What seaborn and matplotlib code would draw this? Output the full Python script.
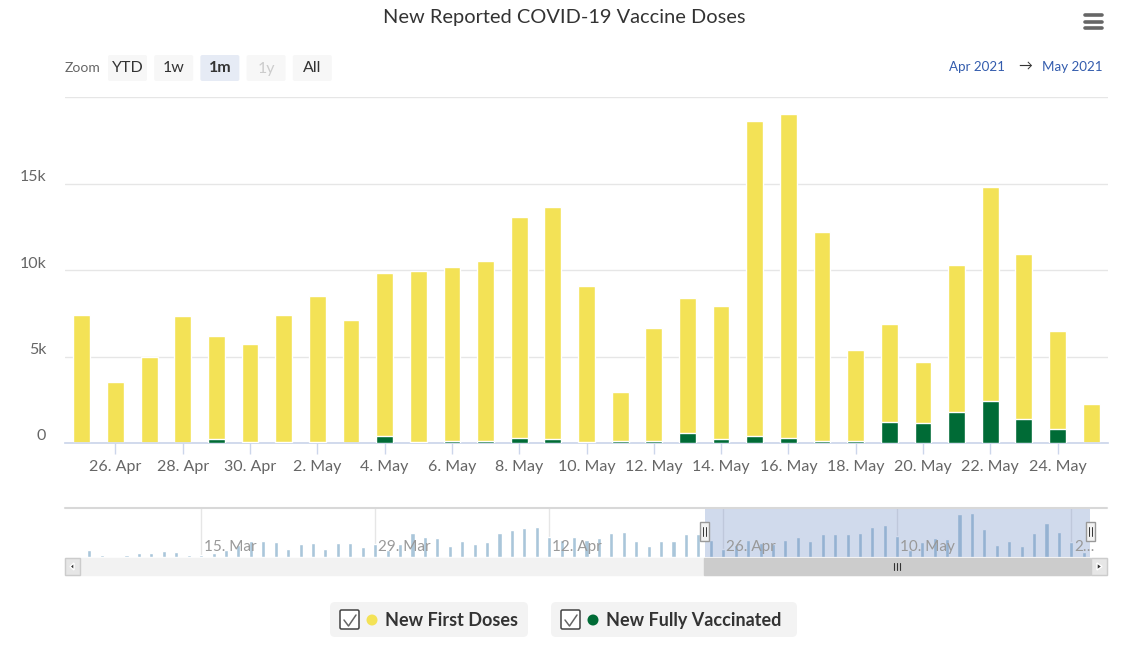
import numpy as np
import pandas as pd
import seaborn as sns
import matplotlib.pyplot as plt
import matplotlib.transforms as mtransforms
from matplotlib.patches import FancyBboxPatch, Rectangle, Circle, Polygon

W, H = 1135, 648

# ---- data ----
dates = pd.date_range("2021-04-25", "2021-05-25")
first_doses = [7400, 3550, 5000, 7330, 5950, 5640, 7320, 8410, 7110, 9410, 9860,
               10010, 10380, 12770, 13450, 8990, 2830, 6530, 7830, 7700, 18160,
               18740, 12050, 5230, 5640, 3550, 8490, 12410, 9590, 5660, 2250]
fully_vaccinated = [0, 0, 0, 0, 210, 80, 80, 80, 20, 430, 80, 140, 140, 290, 210,
                    80, 140, 140, 580, 210, 430, 290, 140, 140, 1240, 1160, 1820,
                    2400, 1360, 790, 0]
# navigator series before the selected month (daily totals, 5 Mar - 24 Apr)
nav_dates_early = pd.date_range("2021-03-05", "2021-04-24")
nav_totals_early = [0, 3200, 1000, 0, 1000, 1700, 1700, 2700, 2200, 1000, 1000, 1700,
                    3200, 5000, 7000, 7000, 6500, 3600, 5600, 6000, 3600, 6000, 6000,
                    4300, 5600, 3200, 5600, 10400, 8600, 8100, 4900, 7000, 5600, 6500,
                    10400, 11500, 12500, 13100, 8600, 7500, 8600, 7500, 8200, 10400,
                    10800, 7000, 4900, 7000, 7000, 9800, 9800]
series_names = ["New First Doses", "New Fully Vaccinated"]
series_colors = ["#f3e256", "#006b36"]
y_ticks = [0, 5000, 10000, 15000, 20000]
y_labels = ["0", "5k", "10k", "15k", ""]
zoom_buttons = ["YTD", "1w", "1m", "1y", "All"]
nav_label_dates = ["2021-03-15", "2021-03-29", "2021-04-12", "2021-04-26",
                   "2021-05-10", "2021-05-24"]
nav_labels = ["15. Mar", "29. Mar", "12. Apr", "26. Apr", "10. May", "2…"]

df = pd.DataFrame({"date": [f"{d.day}. {d.strftime('%b')}" for d in dates],
                   "first": first_doses, "full": fully_vaccinated})
df["total"] = df["first"] + df["full"]

nav = pd.DataFrame({"date": list(nav_dates_early) + list(dates),
                    "total": nav_totals_early + list(df["total"])})
nav["i"] = np.arange(len(nav))

sns.set_theme(style="white")
plt.rcParams["font.family"] = ["Lato", "DejaVu Sans"]

fig = plt.figure(figsize=(W / 100, H / 100), dpi=100, facecolor="white")


def px_axes(x0, y0, x1, y1, **kw):
    return fig.add_axes([x0 / W, 1 - y1 / H, (x1 - x0) / W, (y1 - y0) / H], **kw)


# ---- main chart ----
ax = px_axes(65, 97, 1108, 443)
sns.barplot(data=df, x="date", y="total", color=series_colors[0], width=0.5,
            saturation=1, errorbar=None, ax=ax, zorder=2)
sns.barplot(data=df, x="date", y="full", color=series_colors[1], width=0.5,
            saturation=1, errorbar=None, ax=ax, zorder=3)
ax.set_xlim(-0.5, len(df) - 0.5)
ax.set_ylim(0, 20000)
ax.set_xlabel("")
ax.set_ylabel("")
ax.set_yticks(y_ticks)
ax.set_yticklabels(y_labels)
ax.yaxis.grid(True, color="#e6e6e6", lw=1)
ax.set_axisbelow(True)
tick_idx = list(range(1, len(df), 2))
ax.set_xticks(tick_idx)
ax.set_xticklabels(df["date"].iloc[tick_idx])
ax.tick_params(axis="x", length=8, width=1, color="#ccd6eb", pad=4,
               labelsize=11.5, labelcolor="#666666", bottom=True)
ax.tick_params(axis="y", length=0, pad=13.5, labelsize=11.5, labelcolor="#666666")
shift = mtransforms.ScaledTranslation(0, 0.08, fig.dpi_scale_trans)
for lab in ax.get_yticklabels():
    lab.set_transform(lab.get_transform() + shift)
for s in ["top", "right", "left"]:
    ax.spines[s].set_visible(False)
ax.spines["bottom"].set_color("#ccd6eb")

# ---- navigator ----
axn = px_axes(65, 508, 1090, 557)
sns.barplot(data=nav, x="i", y="total", color="#aac6da", width=0.33,
            saturation=1, errorbar=None, ax=axn, native_scale=True, zorder=2)
axn.set_xlim(-0.95, len(nav) - 0.5)
axn.set_ylim(0, 21200)
axn.set_xticks([])
axn.set_yticks([])
axn.set_xlabel("")
axn.set_ylabel("")
for s in axn.spines.values():
    s.set_visible(False)
date_pos = {d.strftime("%Y-%m-%d"): i for i, d in zip(nav["i"], nav["date"])}
tr = mtransforms.blended_transform_factory(axn.transData, axn.transAxes)
for d, lab in zip(nav_label_dates, nav_labels):
    xi = date_pos[d]
    axn.axvline(xi, color="#e6e6e6", lw=1, zorder=1)
    axn.text(xi + 0.25, 0.2, lab, transform=tr, ha="left", va="center",
             fontsize=11, color="#999999", zorder=4)
sel0 = date_pos["2021-04-25"] - 0.5
axn.axvspan(sel0, len(nav) - 0.5, color=(102 / 255, 133 / 255, 194 / 255, 0.3),
            lw=0, zorder=3)

# ---- overlay for chrome (pixel coordinates) ----
ui = fig.add_axes([0, 0, 1, 1], zorder=10)
ui.set_xlim(0, W)
ui.set_ylim(H, 0)
ui.axis("off")
ui.patch.set_alpha(0)

ui.text(564, 18, "New Reported COVID-19 Vaccine Doses", ha="center", va="center",
        fontsize=14.4, color="#333333")
for yy in (15, 21.5, 28):
    ui.plot([1085, 1102], [yy, yy], color="#666666", lw=2.6,
            solid_capstyle="round")

ui.text(65, 68, "Zoom", ha="left", va="center", fontsize=10, color="#666666")
for k, lab in enumerate(zoom_buttons):
    x0 = 108 + k * 46.2
    sel = lab == "1m"
    ui.add_patch(FancyBboxPatch((x0, 55), 39, 26, boxstyle="round,pad=0,rounding_size=2",
                                fc="#e6ebf5" if sel else "#f7f7f7", ec="none"))
    ui.text(x0 + 19.5, 68.5, lab, ha="center", va="center", fontsize=11.5,
            color="#cccccc" if lab == "1y" else "#333333",
            fontweight="bold" if sel else "normal")

ui.text(1005, 67, "Apr 2021", ha="right", va="center", fontsize=9.6, color="#335cad")
ui.text(1025, 67, "→", ha="center", va="center", fontsize=10, color="#333333")
ui.text(1102, 67, "May 2021", ha="right", va="center", fontsize=9.6, color="#335cad")

# navigator outline and handles
ui.plot([65, 1107], [508, 508], color="#d8d8d8", lw=1.5)
for hx in (704, 1090):
    ui.add_patch(Rectangle((hx - 4.5, 522), 9, 19, fc="#f2f2f2", ec="#999999", lw=1))
    ui.plot([hx - 1.5, hx - 1.5], [527, 536], color="#333333", lw=0.7)
    ui.plot([hx + 1.5, hx + 1.5], [527, 536], color="#333333", lw=0.7)

# scrollbar
ui.add_patch(Rectangle((65, 558), 1042, 17, fc="#f2f2f2", ec="#f2f2f2", lw=1))
ui.add_patch(Rectangle((704, 558), 386, 17, fc="#cccccc", ec="#cccccc", lw=1))
for rx in (894, 897, 900):
    ui.plot([rx, rx], [563, 570], color="#333333", lw=0.8)
ui.add_patch(Rectangle((65, 558), 15, 17, fc="#e6e6e6", ec="#cccccc", lw=1))
ui.add_patch(Rectangle((1091, 558), 16, 17, fc="#e6e6e6", ec="#cccccc", lw=1))
ui.add_patch(Polygon([[70, 566.5], [74, 563], [74, 570]], closed=True, fc="#333333"))
ui.add_patch(Polygon([[1102, 566.5], [1097, 563], [1097, 570]], closed=True, fc="#333333"))

# legend
legend_boxes = [(330, 528), (551, 797)]
for (x0, x1), name, col in zip(legend_boxes, series_names, series_colors):
    ui.add_patch(FancyBboxPatch((x0, 602), x1 - x0, 35,
                                boxstyle="round,pad=0,rounding_size=5",
                                fc="#f3f3f3", ec="none"))
    ui.add_patch(FancyBboxPatch((x0 + 10, 610), 19, 19,
                                boxstyle="round,pad=0,rounding_size=1.5",
                                fc="white", ec="#444444", lw=1.1))
    ui.plot([x0 + 14, x0 + 18.5, x0 + 26], [620, 626, 615], color="#666666", lw=1.1)
    ui.add_patch(Circle((x0 + 42, 620), 5.5, fc=col, ec="none"))
    ui.text(x0 + 55, 620.5, name, ha="left", va="center", fontsize=13,
            fontweight="bold", color="#333333")

fig.savefig("out.png", dpi=100)
